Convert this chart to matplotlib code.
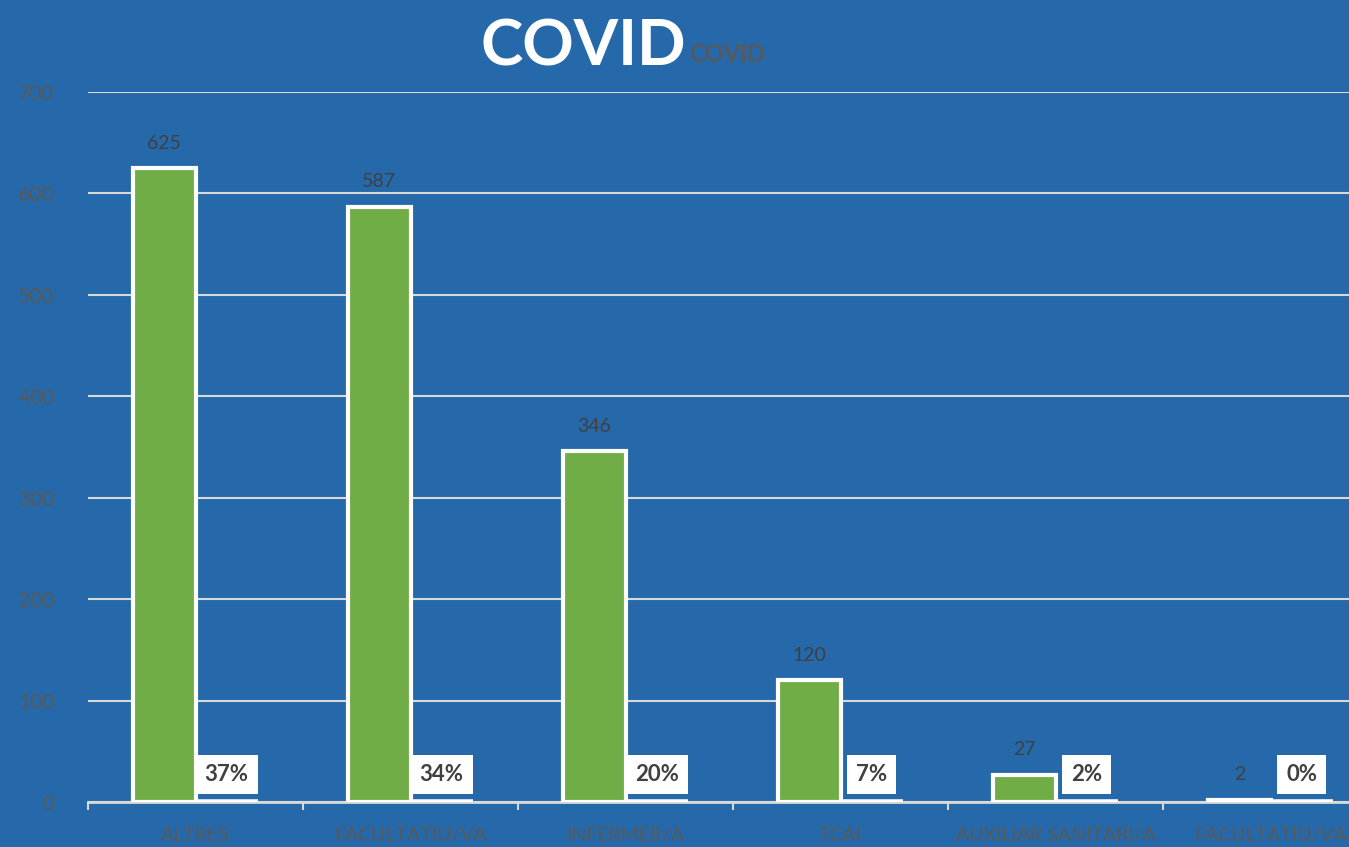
import numpy as np
import matplotlib.pyplot as plt

plt.rcParams['font.family'] = ['Lato', 'DejaVu Sans']

categories = ['ALTRES', 'FACULTATIU/VA', 'INFERMER/A', 'TCAI',
              'AUXILIAR SANITARI/A', 'FACULTATIU/VA']
counts = [625, 587, 346, 120, 27, 2]
percents = [37, 34, 20, 7, 2, 0]

BG = '#2569AA'
GREEN = '#70AD47'
GREY = '#595959'
DARK = '#404040'

fig = plt.figure(figsize=(13.49, 8.47), dpi=100)
fig.patch.set_facecolor(BG)
ax = fig.add_axes([88 / 1349, 1 - 802 / 847, 1290 / 1349, 710 / 847])
ax.set_facecolor(BG)

x = np.arange(len(categories))
w = 0.29
ax.bar(x - w / 2, counts, w, color=GREEN, edgecolor='white', linewidth=3, zorder=3)
ax.bar(x + w / 2, [p / 100 for p in percents], w, color=BG, edgecolor='white',
       linewidth=4, zorder=3)

for xi, c in zip(x, counts):
    ax.annotate(str(c), (xi - w / 2, c), xytext=(0, 18), textcoords='offset points',
                ha='center', va='center', fontsize=14, color=DARK, zorder=4)
for xi, p in zip(x, percents):
    ax.text(xi + w / 2, 27, f'{p}%', ha='center', va='center', fontsize=16,
            fontweight='bold', color=DARK, zorder=4,
            bbox=dict(boxstyle='square,pad=0.4', fc='white', ec='none'))

ax.set_xlim(-0.5, len(categories) - 0.5)
ax.set_ylim(0, 700)
ax.set_yticks(range(0, 701, 100))
ax.yaxis.grid(True, color='#D9D9D9', linewidth=1.5, zorder=0)
ax.set_axisbelow(True)

ax.set_xticks(x)
ax.set_xticklabels(categories)
ax.set_xticks(np.arange(-0.5, len(categories), 1), minor=True)
ax.tick_params(axis='x', which='major', length=0, pad=18, labelsize=14, labelcolor=GREY)
ax.tick_params(axis='x', which='minor', length=6, width=1.5, color='#D9D9D9')
ax.tick_params(axis='y', length=0, pad=24, labelsize=15, labelcolor=GREY)

for s in ['left', 'right', 'top']:
    ax.spines[s].set_visible(False)
ax.spines['bottom'].set_color('#D9D9D9')
ax.spines['bottom'].set_linewidth(2)

fig.text(583 / 1349, 1 - 47 / 847, 'COVID', ha='center', va='center',
         fontsize=46, fontweight='bold', color='white')
fig.text(727 / 1349, 1 - 55 / 847, 'COVID', ha='center', va='center',
         fontsize=17, fontweight='bold', color=GREY)

fig.savefig('out.png', dpi=100, facecolor=BG)
